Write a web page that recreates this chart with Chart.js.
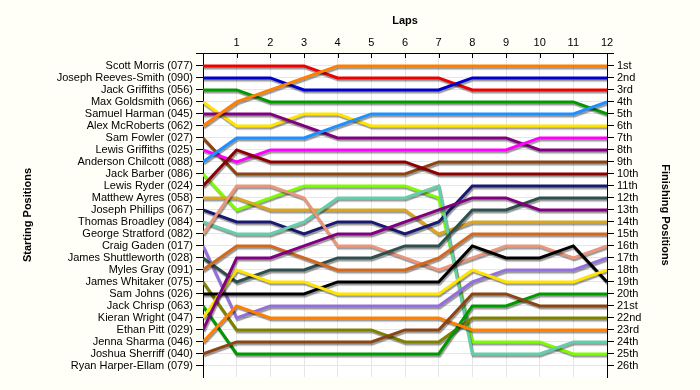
<!DOCTYPE html>
<html>
<head>
<meta charset="utf-8">
<script src="https://cdn.jsdelivr.net/npm/chart.js@4"></script>
<style>
  html, body { margin: 0; padding: 0; background: #fffff8; }
  #wrap { width: 700px; height: 390px; }
</style>
</head>
<body>
<div id="wrap"><canvas id="lapChart" width="700" height="390"></canvas></div>
<script>
// Lap numbers (0 = grid)
const laps = [0, 1, 2, 3, 4, 5, 6, 7, 8, 9, 10, 11, 12];

// Drivers in starting order
const starters = [
    'Scott Morris (077)', 'Joseph Reeves-Smith (090)', 'Jack Griffiths (056)',
    'Max Goldsmith (066)', 'Samuel Harman (045)', 'Alex McRoberts (062)',
    'Sam Fowler (027)', 'Lewis Griffiths (025)', 'Anderson Chilcott (088)',
    'Jack Barber (086)', 'Lewis Ryder (024)', 'Matthew Ayres (058)',
    'Joseph Phillips (067)', 'Thomas Broadley (084)', 'George Stratford (082)',
    'Craig Gaden (017)', 'James Shuttleworth (028)', 'Myles Gray (091)',
    'James Whitaker (075)', 'Sam Johns (026)', 'Jack Chrisp (063)',
    'Kieran Wright (047)', 'Ethan Pitt (029)', 'Jenna Sharma (046)',
    'Joshua Sherriff (040)', 'Ryan Harper-Ellam (079)'
];

const finishLabels = [
    '1st', '2nd', '3rd', '4th', '5th', '6th', '7th', '8th', '9th', '10th',
    '11th', '12th', '13th', '14th', '15th', '16th', '17th', '18th', '19th', '20th',
    '21st', '22nd', '23rd', '24th', '25th', '26th'
];

const lineColours = [
    '#ee0000', '#0000cc', '#009900', '#ffe400', '#800080', '#ff8000',
    '#8b4513', '#ff00ff', '#1e90ff', '#7cfc00', '#8b0000', '#daa520',
    '#191970', '#66cdaa', '#e9967a', '#9370db', '#2f4f4f', '#d2691e',
    '#808000', '#000000', '#009900', '#ffe400', '#800080', '#ff8000',
    '#8b4513'
];

// Position of each driver at every lap (row = starting order)
const lapPositions = [
    [1, 1, 1, 1, 2, 2, 2, 2, 3, 3, 3, 3, 3],
    [2, 2, 2, 3, 3, 3, 3, 3, 2, 2, 2, 2, 2],
    [3, 3, 4, 4, 4, 4, 4, 4, 4, 4, 4, 4, 5],
    [4, 6, 6, 5, 5, 6, 6, 6, 6, 6, 6, 6, 6],
    [5, 5, 5, 6, 7, 7, 7, 7, 7, 7, 8, 8, 8],
    [6, 4, 3, 2, 1, 1, 1, 1, 1, 1, 1, 1, 1],
    [7, 10, 10, 10, 10, 10, 10, 9, 9, 9, 9, 9, 9],
    [8, 9, 8, 8, 8, 8, 8, 8, 8, 8, 7, 7, 7],
    [9, 7, 7, 7, 6, 5, 5, 5, 5, 5, 5, 5, 4],
    [10, 13, 12, 11, 11, 11, 11, 12, 24, 24, 24, 25, 25],
    [11, 8, 9, 9, 9, 9, 9, 10, 10, 10, 10, 10, 10],
    [12, 12, 13, 13, 13, 13, 13, 15, 14, 14, 14, 14, 14],
    [13, 14, 14, 15, 14, 14, 15, 14, 11, 11, 11, 11, 11],
    [14, 15, 15, 14, 12, 12, 12, 11, 25, 25, 25, 24, 24],
    [15, 11, 11, 12, 16, 16, 17, 18, 17, 16, 16, 17, 16],
    [16, 22, 21, 21, 21, 21, 21, 21, 19, 18, 18, 18, 17],
    [17, 19, 18, 18, 17, 17, 16, 16, 13, 13, 12, 12, 12],
    [18, 16, 16, 17, 18, 18, 18, 17, 15, 15, 15, 15, 15],
    [19, 23, 23, 23, 23, 23, 24, 24, 22, 22, 22, 22, 22],
    [20, 20, 20, 20, 19, 19, 19, 19, 16, 17, 17, 16, 19],
    [21, 25, 25, 25, 25, 25, 25, 25, 21, 21, 20, 20, 20],
    [22, 18, 19, 19, 20, 20, 20, 20, 18, 19, 19, 19, 18],
    [23, 17, 17, 16, 15, 15, 14, 13, 12, 12, 13, 13, 13],
    [24, 21, 22, 22, 22, 22, 22, 22, 23, 23, 23, 23, 23],
    [25, 24, 24, 24, 24, 24, 23, 23, 20, 20, 21, 21, 21]
];

const tickFont = { family: "'Liberation Sans', Arial, sans-serif", size: 11 };
const titleFont = { family: "'Liberation Sans', Arial, sans-serif", size: 11, weight: 'bold' };

// later starters are drawn on top, like the original
const datasets = lapPositions.map((row, i) => ({
    label: starters[i],
    data: row.map((p, lap) => ({ x: laps[lap], y: p })),
    borderColor: lineColours[i],
    borderWidth: 3,
    pointRadius: 0,
    tension: 0,
    fill: false,
    order: -i
}));

function positionTicks(scale) {
    scale.ticks = starters.map((s, i) => ({ value: i + 1 }));
}

// Page and plot backgrounds
const backgroundPlugin = {
    id: 'backgrounds',
    beforeDraw(chart) {
        const { ctx, chartArea } = chart;
        ctx.save();
        ctx.fillStyle = '#fffff8';
        ctx.fillRect(0, 0, chart.width, chart.height);
        ctx.fillStyle = '#ffffff';
        ctx.fillRect(chartArea.left, chartArea.top, chartArea.right - chartArea.left, chartArea.bottom - chartArea.top);
        ctx.restore();
    }
};

// Grey drop shadow under the lap lines
const shadowPlugin = {
    id: 'lineShadow',
    beforeDatasetsDraw(chart) {
        const ctx = chart.ctx;
        ctx.save();
        ctx.shadowColor = 'rgba(0, 0, 0, 0.4)';
        ctx.shadowOffsetX = 1;
        ctx.shadowOffsetY = 2;
        ctx.shadowBlur = 1;
    },
    afterDatasetsDraw(chart) {
        chart.ctx.restore();
    }
};

// Small inward tick marks on the lap axis and axis line overhang
const lapTicksPlugin = {
    id: 'lapTicks',
    afterDraw(chart) {
        const { ctx, chartArea, scales } = chart;
        ctx.save();
        ctx.strokeStyle = '#000';
        ctx.lineWidth = 1;
        ctx.beginPath();
        laps.slice(1).forEach(l => {
            const x = Math.round(scales.x.getPixelForValue(l)) + 0.5;
            ctx.moveTo(x, chartArea.top);
            ctx.lineTo(x, chartArea.top + 5);
        });
        const y = Math.round(chartArea.top) + 0.5;
        ctx.moveTo(chartArea.left - 7, y);
        ctx.lineTo(chartArea.right + 7, y);
        ctx.stroke();
        ctx.restore();
    }
};

new Chart(document.getElementById('lapChart'), {
    type: 'line',
    data: { datasets },
    options: {
        responsive: false,
        animation: false,
        layout: { padding: { left: 0, right: 0, top: 0, bottom: 13 } },
        plugins: {
            legend: { display: false },
            tooltip: { enabled: false }
        },
        scales: {
            x: {
                type: 'linear',
                position: 'top',
                min: 0,
                max: 12,
                afterBuildTicks: s => { s.ticks = laps.map(v => ({ value: v })); },
                afterFit: s => { s.height = 53; },
                grid: { color: '#e6e6e6', drawTicks: false },
                border: { display: true, color: '#000' },
                ticks: {
                    font: tickFont,
                    color: '#000',
                    padding: 3,
                    callback: v => (v === 0 ? '' : String(v))
                },
                title: { display: true, text: 'Laps', font: titleFont, color: '#000', padding: { top: 14, bottom: 0 } }
            },
            y: {
                type: 'linear',
                position: 'left',
                reverse: true,
                min: -0.08,
                max: 26.92,
                afterBuildTicks: positionTicks,
                afterFit: s => { s.width = 203; },
                grid: { color: '#e6e6e6', tickColor: '#000', tickLength: 7 },
                border: { display: true, color: '#000' },
                ticks: {
                    font: tickFont,
                    color: '#000',
                    padding: 3,
                    autoSkip: false,
                    callback: v => starters[v - 1] || ''
                },
                title: { display: true, text: 'Starting Positions', font: titleFont, color: '#000', padding: { top: 21, bottom: 0 } }
            },
            y2: {
                type: 'linear',
                position: 'right',
                reverse: true,
                min: -0.08,
                max: 26.92,
                afterBuildTicks: positionTicks,
                afterFit: s => { s.width = 93; },
                grid: { drawOnChartArea: false, tickColor: '#000', tickLength: 7 },
                border: { display: true, color: '#000' },
                ticks: {
                    font: tickFont,
                    color: '#000',
                    padding: 3,
                    autoSkip: false,
                    callback: v => finishLabels[v - 1] || ''
                },
                title: { display: true, text: 'Finishing Positions', font: titleFont, color: '#000', padding: { top: 28, bottom: 0 } }
            }
        }
    },
    plugins: [backgroundPlugin, shadowPlugin, lapTicksPlugin]
});
</script>
</body>
</html>
